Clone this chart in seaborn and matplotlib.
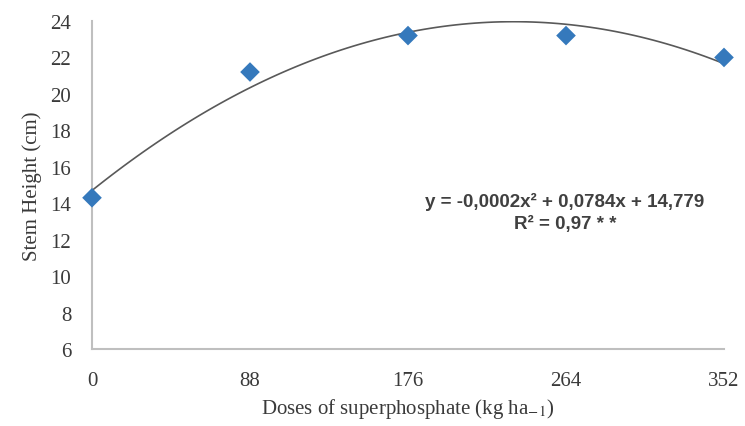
import numpy as np
import pandas as pd
import matplotlib
matplotlib.use('Agg')
from matplotlib import pyplot as plt
import seaborn as sns

# doses of superphosphate (kg/ha) and mean stem height (cm)
doses = [0, 88, 176, 264, 352]
altura = [14.3, 21.2, 23.2, 23.2, 22.0]
x_ticks = [0, 88, 176, 264, 352]
y_ticks = [6, 8, 10, 12, 14, 16, 18, 20, 22, 24]

equacao = 'y = -0,0002x² + 0,0784x + 14,779'
r2_txt = 'R² = 0,97 * *'

df = pd.DataFrame({'dose': doses, 'altura': altura})

sns.set_theme(style='white')
plt.rcParams['font.family'] = ['Liberation Serif', 'DejaVu Serif']
plt.rcParams['mathtext.fontset'] = 'stix'

fig = plt.figure(figsize=(7.45, 4.27), dpi=100)
ax = fig.add_axes([92 / 745, 1 - 350 / 427, (724 - 92) / 745, (350 - 22) / 427])

# quadratic trend line (Excel-like polynomial trendline)
sns.regplot(data=df, x='dose', y='altura', order=2, ci=None, scatter=False,
            truncate=True, line_kws={'color': '#595959', 'lw': 1.2}, ax=ax)
sns.scatterplot(data=df, x='dose', y='altura', marker='D', s=100, color='#3579BC',
                edgecolor='none', zorder=5, clip_on=False, ax=ax)

ax.set_xlim(0, 352)
ax.set_ylim(6, 24)
ax.set_xticks(x_ticks)
ax.set_yticks(y_ticks)
ax.tick_params(axis='both', length=0, labelsize=15, labelcolor='#3a3a3a')
ax.tick_params(axis='x', pad=16)
ax.tick_params(axis='y', pad=15)

for s in ['top', 'right']:
    ax.spines[s].set_visible(False)
for s in ['left', 'bottom']:
    ax.spines[s].set_color('#BFBFBF')
    ax.spines[s].set_linewidth(1.5)

ax.set_xlabel('Doses of superphosphate (kg ha$_{-1}$)', fontsize=15, color='#3a3a3a', labelpad=4)
ax.set_ylabel('Stem Height (cm)', fontsize=15, color='#3a3a3a', labelpad=6)

fig.text(565 / 745, 1 - 202 / 427, equacao, ha='center', va='center', fontsize=13.5,
         fontweight='bold', color='#404040', family=['Liberation Sans', 'DejaVu Sans'])
fig.text(565 / 745, 1 - 224 / 427, r2_txt, ha='center', va='center', fontsize=13.5,
         fontweight='bold', color='#404040', family=['Liberation Sans', 'DejaVu Sans'])

fig.savefig('out.png', dpi=100)
